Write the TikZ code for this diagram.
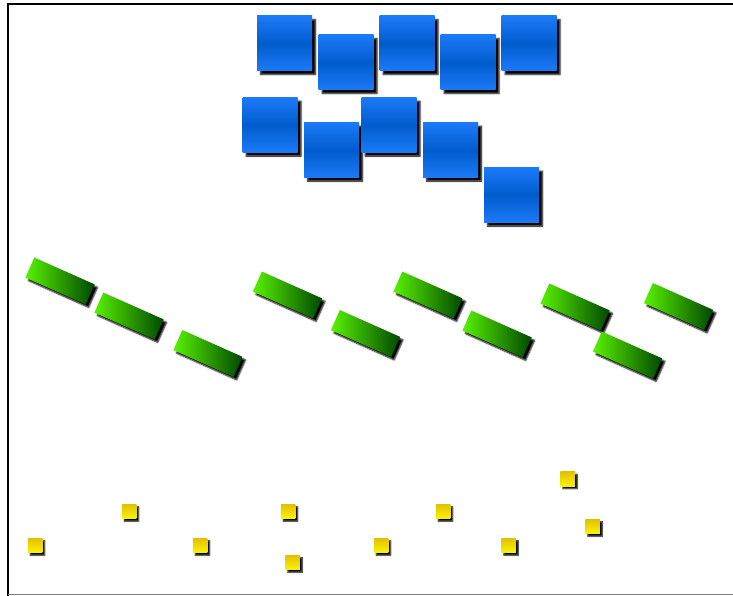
\documentclass[tikz,border=0pt]{standalone}
\usetikzlibrary{shadows.blur}
\definecolor{tileblue}{RGB}{28,122,248}
\definecolor{tilebluedk}{RGB}{0,92,205}
\definecolor{barlite}{RGB}{88,242,0}
\definecolor{bardark}{RGB}{0,72,0}
\definecolor{dottop}{RGB}{228,192,0}
\definecolor{dotbot}{RGB}{250,244,0}

\begin{document}
\begin{tikzpicture}[x=1pt,y=-1pt,
  tile/.style={inner sep=0,minimum width=55pt,minimum height=55pt,
    top color=tileblue,bottom color=tileblue,middle color=tilebluedk,
    blur shadow={shadow xshift=3.5pt,shadow yshift=-3.5pt,shadow blur radius=1.5pt,
      shadow opacity=100}},
  bar/.style={inner sep=0,minimum width=66pt,minimum height=22pt,rotate=-24,
    left color=barlite,right color=bardark,
    blur shadow={shadow xshift=3pt,shadow yshift=-3pt,shadow blur radius=1.5pt,
      shadow opacity=100}},
  dot/.style={inner sep=0,minimum width=14.5pt,minimum height=14.5pt,
    top color=dottop,bottom color=dotbot,
    blur shadow={shadow xshift=2.5pt,shadow yshift=-2.5pt,shadow blur radius=1.2pt,
      shadow opacity=100}}]
  \useasboundingbox (0,0) rectangle (733,596);
  % frame
  \draw[line width=2pt] (8,596) -- (8,4) -- (733,4);
  \draw[gray,line width=1pt] (8,594.5) -- (733,594.5);
  % blue tiles
  \node[tile] (b1) at (284.5,43.5) {};
  \node[tile] (b2) at (346,62.5) {};
  \node[tile] (b3) at (407,43.5) {};
  \node[tile] (b4) at (468,62.5) {};
  \node[tile] (b5) at (529,43.5) {};
  \node[tile] (b6) at (270,125) {};
  \node[tile] (b7) at (331.5,150) {};
  \node[tile] (b8) at (389,125) {};
  \node[tile] (b9) at (450.5,150) {};
  \node[tile] (b10) at (511.5,195) {};
  % green bars
  \node[bar] (g1) at (60,281) {};
  \node[bar] (g2) at (129,316) {};
  \node[bar] (g3) at (208,353.5) {};
  \node[bar] (g4) at (287.5,295) {};
  \node[bar] (g5) at (365.5,333.5) {};
  \node[bar] (g6) at (428,295) {};
  \node[bar] (g7) at (497,334) {};
  \node[bar] (g8) at (575,307) {};
  \node[bar] (g9) at (627.5,355) {};
  \node[bar] (g10) at (678.5,306.5) {};
  % yellow dots
  \node[dot] (y1) at (35,545.5) {};
  \node[dot] (y2) at (129,511.5) {};
  \node[dot] (y3) at (200,545.5) {};
  \node[dot] (y4) at (288,511.5) {};
  \node[dot] (y5) at (292.5,562.5) {};
  \node[dot] (y6) at (381,545.5) {};
  \node[dot] (y7) at (443,511.5) {};
  \node[dot] (y8) at (508.5,545.5) {};
  \node[dot] (y9) at (567.5,479) {};
  \node[dot] (y10) at (592.5,526.5) {};
\end{tikzpicture}
\end{document}
